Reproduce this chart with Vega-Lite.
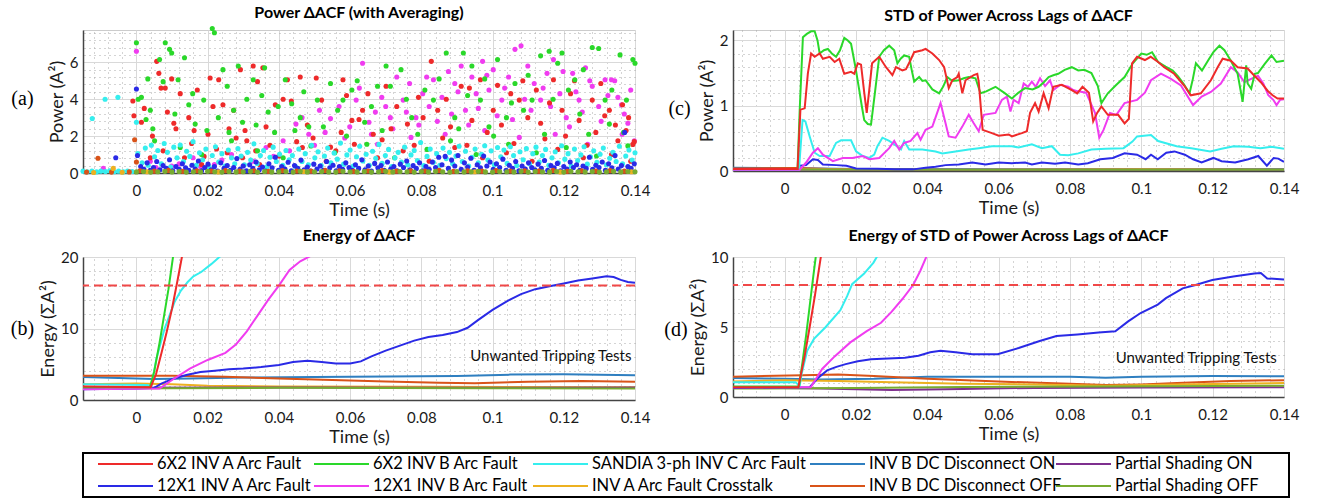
{
"$schema": "https://vega.github.io/schema/vega-lite/v6.json",
"autosize": {"type": "pad"},
"padding": {"left": 10, "top": 4, "right": 5, "bottom": 0},
"datasets": {
"leg": [
{"s":"r","name":"6X2 INV A Arc Fault","col":0,"row":0},{"s":"g","name":"6X2 INV B Arc Fault","col":1,"row":0},{"s":"c","name":"SANDIA 3-ph INV C Arc Fault","col":2,"row":0},{"s":"k","name":"INV B DC Disconnect ON","col":3,"row":0},{"s":"p","name":"Partial Shading ON","col":4,"row":0},
{"s":"b","name":"12X1 INV A Arc Fault","col":0,"row":1},{"s":"m","name":"12X1 INV B Arc Fault","col":1,"row":1},{"s":"y","name":"INV A Arc Fault Crosstalk","col":2,"row":1},{"s":"o","name":"INV B DC Disconnect OFF","col":3,"row":1},{"s":"l","name":"Partial Shading OFF","col":4,"row":1}
],
"a": [
{"t":-9.3,"v":0.26,"s":"m"},{"t":0,"v":6.6,"s":"m"},{"t":3.9,"v":0.64,"s":"m"},{"t":9.9,"v":0.37,"s":"m"},{"t":15.9,"v":0.83,"s":"m"},{"t":21.9,"v":0.46,"s":"m"},{"t":26.7,"v":1.0,"s":"m"},{"t":32.8,"v":0.64,"s":"m"},{"t":36.4,"v":1.38,"s":"m"},{"t":41.2,"v":1.75,"s":"m"},{"t":44.8,"v":2.65,"s":"m"},{"t":48.4,"v":2.1,"s":"m"},{"t":51.4,"v":3.4,"s":"m"},{"t":54.5,"v":2.95,"s":"m"},{"t":56.9,"v":3.6,"s":"m"},{"t":59.9,"v":2.5,"s":"m"},{"t":61.7,"v":3.95,"s":"m"},{"t":63.5,"v":5.95,"s":"m"},{"t":65.3,"v":2.75,"s":"m"},{"t":67.1,"v":3.3,"s":"m"},{"t":67.7,"v":1.56,"s":"m"},{"t":68.9,"v":4.1,"s":"m"},{"t":71.3,"v":3.0,"s":"m"},{"t":73.1,"v":5.2,"s":"m"},{"t":74.9,"v":3.95,"s":"m"},{"t":76.7,"v":4.85,"s":"m"},{"t":77.1,"v":1.93,"s":"m"},{"t":78.5,"v":3.0,"s":"m"},{"t":80.4,"v":4.3,"s":"m"},{"t":82.2,"v":3.6,"s":"m"},{"t":83.4,"v":5.05,"s":"m"},{"t":85.8,"v":4.1,"s":"m"},{"t":86.7,"v":2.1,"s":"m"},{"t":87.6,"v":5.5,"s":"m"},{"t":89.4,"v":4.85,"s":"m"},{"t":91.2,"v":5.8,"s":"m"},{"t":92.4,"v":3.4,"s":"m"},{"t":94.2,"v":5.2,"s":"m"},{"t":95.4,"v":4.3,"s":"m"},{"t":97.2,"v":6.05,"s":"m"},{"t":97.8,"v":2.3,"s":"m"},{"t":99,"v":4.5,"s":"m"},{"t":100.2,"v":5.6,"s":"m"},{"t":102.6,"v":3.95,"s":"m"},{"t":104.5,"v":5.2,"s":"m"},{"t":106.3,"v":6.7,"s":"m"},{"t":107.5,"v":1.93,"s":"m"},{"t":108,"v":6.9,"s":"m"},{"t":109.9,"v":5.8,"s":"m"},{"t":111.7,"v":4.85,"s":"m"},{"t":113.5,"v":3.95,"s":"m"},{"t":115.3,"v":5.4,"s":"m"},{"t":117.1,"v":6.15,"s":"m"},{"t":117.6,"v":2.1,"s":"m"},{"t":118.9,"v":4.3,"s":"m"},{"t":120.7,"v":3.0,"s":"m"},{"t":122.5,"v":5.4,"s":"m"},{"t":124.3,"v":3.95,"s":"m"},{"t":126.1,"v":5.7,"s":"m"},{"t":126.7,"v":1.56,"s":"m"},{"t":128,"v":4.7,"s":"m"},{"t":129.8,"v":3.6,"s":"m"},{"t":131.6,"v":5.05,"s":"m"},{"t":133.4,"v":5.05,"s":"m"},{"t":135.2,"v":4.1,"s":"m"},{"t":136.4,"v":2.1,"s":"m"},{"t":137,"v":3.2,"s":"m"},{"t":138.8,"v":4.5,"s":"m"},{"t":139.8,"v":1.75,"s":"m"},
{"t":5.5,"v":0.3,"s":"m"},{"t":12,"v":0.5,"s":"m"},{"t":18,"v":0.35,"s":"m"},{"t":24,"v":0.7,"s":"m"},{"t":30,"v":0.4,"s":"m"},{"t":38.5,"v":0.9,"s":"m"},{"t":43,"v":1.2,"s":"m"},{"t":46.5,"v":3.0,"s":"m"},{"t":50,"v":1.5,"s":"m"},{"t":53,"v":2.2,"s":"m"},{"t":58.5,"v":1.9,"s":"m"},{"t":62.6,"v":4.6,"s":"m"},{"t":66,"v":2.1,"s":"m"},{"t":70,"v":3.6,"s":"m"},{"t":72,"v":2.4,"s":"m"},{"t":75.8,"v":3.3,"s":"m"},{"t":79.3,"v":2.6,"s":"m"},{"t":81.5,"v":5.2,"s":"m"},{"t":84.5,"v":2.8,"s":"m"},{"t":88.5,"v":3.2,"s":"m"},{"t":90.3,"v":4.4,"s":"m"},{"t":93.3,"v":2.6,"s":"m"},{"t":96,"v":3.5,"s":"m"},{"t":98.4,"v":5.3,"s":"m"},{"t":101.3,"v":3.1,"s":"m"},{"t":103.4,"v":4.6,"s":"m"},{"t":105.6,"v":2.9,"s":"m"},{"t":109,"v":4.0,"s":"m"},{"t":110.8,"v":3.4,"s":"m"},{"t":114.2,"v":4.6,"s":"m"},{"t":116.3,"v":3.6,"s":"m"},{"t":119.8,"v":5.5,"s":"m"},{"t":121.6,"v":2.5,"s":"m"},{"t":123.4,"v":4.4,"s":"m"},{"t":125.2,"v":3.3,"s":"m"},{"t":127.3,"v":5.0,"s":"m"},{"t":130.5,"v":2.8,"s":"m"},{"t":132.4,"v":4.2,"s":"m"},{"t":134.3,"v":5.0,"s":"m"},{"t":136.2,"v":3.7,"s":"m"},{"t":138,"v":2.7,"s":"m"},
{"t":-1,"v":3.9,"s":"r"},{"t":-0.7,"v":3.1,"s":"r"},{"t":1.4,"v":2.75,"s":"r"},{"t":3.9,"v":0.83,"s":"r"},{"t":5.7,"v":6.05,"s":"r"},{"t":6.3,"v":5.4,"s":"r"},{"t":7.5,"v":1.2,"s":"r"},{"t":8.1,"v":4.6,"s":"r"},{"t":8.7,"v":3.3,"s":"r"},{"t":9.9,"v":5.1,"s":"r"},{"t":11.1,"v":2.4,"s":"r"},{"t":12.3,"v":4.3,"s":"r"},{"t":13.5,"v":0.83,"s":"r"},{"t":14.7,"v":3.0,"s":"r"},{"t":17.1,"v":4.5,"s":"r"},{"t":18.3,"v":0.46,"s":"r"},{"t":20.1,"v":2.1,"s":"r"},{"t":20.7,"v":5.15,"s":"r"},{"t":23.1,"v":5.05,"s":"r"},{"t":24.3,"v":3.7,"s":"r"},{"t":25.5,"v":1.1,"s":"r"},{"t":27.3,"v":3.4,"s":"r"},{"t":29.2,"v":5.6,"s":"r"},{"t":29.8,"v":0.83,"s":"r"},{"t":31,"v":1.75,"s":"r"},{"t":32.8,"v":5.8,"s":"r"},{"t":34,"v":4.95,"s":"r"},{"t":34.6,"v":0.46,"s":"r"},{"t":36.4,"v":2.5,"s":"r"},{"t":40,"v":0.92,"s":"r"},{"t":41.2,"v":4.0,"s":"r"},{"t":42.4,"v":5.05,"s":"r"},{"t":46,"v":5.2,"s":"r"},{"t":46.6,"v":1.38,"s":"r"},{"t":49.6,"v":1.9,"s":"r"},{"t":52,"v":3.95,"s":"r"},{"t":53.3,"v":0.64,"s":"r"},{"t":54.5,"v":1.4,"s":"r"},{"t":58,"v":5.05,"s":"r"},{"t":60.5,"v":2.85,"s":"r"},{"t":61.2,"v":1.56,"s":"r"},{"t":63.5,"v":3.4,"s":"r"},{"t":66.5,"v":2.1,"s":"r"},{"t":67.7,"v":0.83,"s":"r"},{"t":70.1,"v":4.7,"s":"r"},{"t":73.1,"v":3.6,"s":"r"},{"t":74.9,"v":1.2,"s":"r"},{"t":76.1,"v":2.65,"s":"r"},{"t":79.2,"v":4.1,"s":"r"},{"t":82.2,"v":0.64,"s":"r"},{"t":82.8,"v":6.05,"s":"r"},{"t":84.6,"v":3.4,"s":"r"},{"t":88.2,"v":2.5,"s":"r"},{"t":89.4,"v":1.38,"s":"r"},{"t":91.2,"v":4.7,"s":"r"},{"t":94.2,"v":2.85,"s":"r"},{"t":96.6,"v":5.05,"s":"r"},{"t":97.2,"v":0.83,"s":"r"},{"t":100.2,"v":3.4,"s":"r"},{"t":101.4,"v":4.75,"s":"r"},{"t":103.9,"v":1.1,"s":"r"},{"t":105.1,"v":4.3,"s":"r"},{"t":107.5,"v":3.95,"s":"r"},{"t":109.9,"v":3.0,"s":"r"},{"t":111.1,"v":0.64,"s":"r"},{"t":112.3,"v":4.5,"s":"r"},{"t":114.7,"v":1.85,"s":"r"},{"t":117.1,"v":5.05,"s":"r"},{"t":118.3,"v":1.28,"s":"r"},{"t":119.5,"v":3.4,"s":"r"},{"t":121.9,"v":4.3,"s":"r"},{"t":124.3,"v":2.85,"s":"r"},{"t":125.5,"v":0.83,"s":"r"},{"t":128,"v":3.95,"s":"r"},{"t":130.4,"v":4.85,"s":"r"},{"t":132.8,"v":3.4,"s":"r"},{"t":133.4,"v":1.0,"s":"r"},{"t":135.2,"v":1.75,"s":"r"},{"t":138.2,"v":3.0,"s":"r"},{"t":138.8,"v":0.64,"s":"r"},{"t":139.4,"v":1.55,"s":"r"},
{"t":2.2,"v":3.5,"s":"r"},{"t":4.5,"v":2.0,"s":"r"},{"t":6.9,"v":4.6,"s":"r"},{"t":10.5,"v":2.7,"s":"r"},{"t":15.5,"v":1.6,"s":"r"},{"t":16.2,"v":2.3,"s":"r"},{"t":19,"v":0.9,"s":"r"},{"t":21.5,"v":3.6,"s":"r"},{"t":22.5,"v":1.3,"s":"r"},{"t":26,"v":2.4,"s":"r"},{"t":28,"v":1.9,"s":"r"},{"t":30.5,"v":2.3,"s":"r"},{"t":33.5,"v":1.2,"s":"r"},{"t":35.5,"v":5.7,"s":"r"},{"t":37.5,"v":1.5,"s":"r"},{"t":39,"v":3.7,"s":"r"},{"t":43.5,"v":3.9,"s":"r"},{"t":45,"v":1.7,"s":"r"},{"t":48,"v":2.6,"s":"r"},{"t":50.5,"v":5.15,"s":"r"},{"t":56,"v":1.2,"s":"r"},{"t":57.5,"v":2.2,"s":"r"},{"t":59,"v":4.2,"s":"r"},{"t":62.5,"v":2.9,"s":"r"},{"t":65,"v":4.3,"s":"r"},{"t":69,"v":1.8,"s":"r"},{"t":71.5,"v":2.4,"s":"r"},{"t":78,"v":1.5,"s":"r"},{"t":80.5,"v":3.0,"s":"r"},{"t":86,"v":1.9,"s":"r"},{"t":87,"v":4.0,"s":"r"},{"t":92.8,"v":1.5,"s":"r"},{"t":93.5,"v":4.6,"s":"r"},{"t":98.5,"v":2.2,"s":"r"},{"t":102.5,"v":2.6,"s":"r"},{"t":106,"v":1.6,"s":"r"},{"t":108.5,"v":5.0,"s":"r"},{"t":113.5,"v":2.7,"s":"r"},{"t":116,"v":3.8,"s":"r"},{"t":120.5,"v":2.0,"s":"r"},{"t":123,"v":5.0,"s":"r"},{"t":126.5,"v":1.5,"s":"r"},{"t":129,"v":2.2,"s":"r"},{"t":131.5,"v":3.1,"s":"r"},{"t":134.5,"v":2.6,"s":"r"},{"t":136.5,"v":3.7,"s":"r"},{"t":137.5,"v":2.3,"s":"r"},{"t":139.8,"v":1.7,"s":"r"},
{"t":0,"v":7.06,"s":"g"},{"t":0.5,"v":4.0,"s":"g"},{"t":1.4,"v":4.1,"s":"g"},{"t":2.7,"v":2.9,"s":"g"},{"t":3.9,"v":3.4,"s":"g"},{"t":5.1,"v":1.75,"s":"g"},{"t":6.5,"v":6.15,"s":"g"},{"t":7.5,"v":4.95,"s":"g"},{"t":8.1,"v":7.06,"s":"g"},{"t":9.3,"v":6.7,"s":"g"},{"t":9.9,"v":6.5,"s":"g"},{"t":11.7,"v":5.05,"s":"g"},{"t":12.3,"v":1.38,"s":"g"},{"t":13.5,"v":6.25,"s":"g"},{"t":14.7,"v":3.7,"s":"g"},{"t":16.5,"v":2.65,"s":"g"},{"t":18.3,"v":1.0,"s":"g"},{"t":18.9,"v":3.95,"s":"g"},{"t":21.3,"v":7.83,"s":"g"},{"t":21.9,"v":7.6,"s":"g"},{"t":24.3,"v":5.6,"s":"g"},{"t":25.5,"v":4.7,"s":"g"},{"t":26.7,"v":1.75,"s":"g"},{"t":27.3,"v":3.4,"s":"g"},{"t":28.6,"v":5.8,"s":"g"},{"t":29.8,"v":2.75,"s":"g"},{"t":32.8,"v":5.05,"s":"g"},{"t":34,"v":1.2,"s":"g"},{"t":35.2,"v":4.2,"s":"g"},{"t":37,"v":3.3,"s":"g"},{"t":38.8,"v":2.2,"s":"g"},{"t":41.2,"v":0.83,"s":"g"},{"t":41.8,"v":5.05,"s":"g"},{"t":43.6,"v":3.75,"s":"g"},{"t":46,"v":3.0,"s":"g"},{"t":48.4,"v":2.5,"s":"g"},{"t":49,"v":1.47,"s":"g"},{"t":50.8,"v":3.95,"s":"g"},{"t":54.5,"v":4.85,"s":"g"},{"t":55.7,"v":1.1,"s":"g"},{"t":58,"v":3.95,"s":"g"},{"t":60.5,"v":4.5,"s":"g"},{"t":64.1,"v":2.75,"s":"g"},{"t":64.7,"v":1.56,"s":"g"},{"t":67.7,"v":4.7,"s":"g"},{"t":70.1,"v":5.8,"s":"g"},{"t":71.3,"v":4.7,"s":"g"},{"t":72.5,"v":0.83,"s":"g"},{"t":74.3,"v":5.6,"s":"g"},{"t":77.3,"v":3.0,"s":"g"},{"t":81,"v":4.5,"s":"g"},{"t":81.6,"v":1.28,"s":"g"},{"t":83.4,"v":3.95,"s":"g"},{"t":87,"v":6.5,"s":"g"},{"t":88.2,"v":1.75,"s":"g"},{"t":89.4,"v":3.0,"s":"g"},{"t":91.8,"v":6.5,"s":"g"},{"t":94.2,"v":5.8,"s":"g"},{"t":95.4,"v":1.0,"s":"g"},{"t":96.6,"v":3.95,"s":"g"},{"t":99,"v":2.5,"s":"g"},{"t":101.4,"v":6.15,"s":"g"},{"t":103.9,"v":3.0,"s":"g"},{"t":104.5,"v":1.56,"s":"g"},{"t":106.3,"v":4.85,"s":"g"},{"t":108.7,"v":3.4,"s":"g"},{"t":111.1,"v":3.95,"s":"g"},{"t":112.3,"v":1.1,"s":"g"},{"t":113.5,"v":6.35,"s":"g"},{"t":115.9,"v":6.6,"s":"g"},{"t":118.3,"v":5.95,"s":"g"},{"t":119.5,"v":6.5,"s":"g"},{"t":120.7,"v":1.38,"s":"g"},{"t":121.3,"v":4.5,"s":"g"},{"t":123.1,"v":5.05,"s":"g"},{"t":125.5,"v":5.6,"s":"g"},{"t":128,"v":6.8,"s":"g"},{"t":129.2,"v":0.92,"s":"g"},{"t":129.8,"v":6.75,"s":"g"},{"t":131.6,"v":3.95,"s":"g"},{"t":132.8,"v":2.65,"s":"g"},{"t":135.8,"v":6.4,"s":"g"},{"t":137.6,"v":3.95,"s":"g"},{"t":138,"v":1.47,"s":"g"},{"t":139.4,"v":6.15,"s":"g"},{"t":140,"v":5.95,"s":"g"},
{"t":3.2,"v":5.1,"s":"g"},{"t":4.6,"v":2.4,"s":"g"},{"t":10.8,"v":3.2,"s":"g"},{"t":15.8,"v":4.3,"s":"g"},{"t":19.8,"v":2.3,"s":"g"},{"t":23,"v":3.0,"s":"g"},{"t":26,"v":2.2,"s":"g"},{"t":31,"v":4.0,"s":"g"},{"t":33.6,"v":2.6,"s":"g"},{"t":36,"v":5.7,"s":"g"},{"t":39.8,"v":3.6,"s":"g"},{"t":44.5,"v":2.3,"s":"g"},{"t":47,"v":4.4,"s":"g"},{"t":52.5,"v":2.5,"s":"g"},{"t":56.5,"v":3.4,"s":"g"},{"t":59,"v":2.0,"s":"g"},{"t":62,"v":5.0,"s":"g"},{"t":66,"v":3.6,"s":"g"},{"t":69,"v":2.3,"s":"g"},{"t":75.8,"v":4.0,"s":"g"},{"t":79,"v":2.1,"s":"g"},{"t":85,"v":5.1,"s":"g"},{"t":90.5,"v":2.4,"s":"g"},{"t":93,"v":4.2,"s":"g"},{"t":97.8,"v":5.1,"s":"g"},{"t":100.3,"v":2.0,"s":"g"},{"t":105.3,"v":3.8,"s":"g"},{"t":110,"v":5.3,"s":"g"},{"t":114.6,"v":2.1,"s":"g"},{"t":117,"v":4.0,"s":"g"},{"t":124.5,"v":3.2,"s":"g"},{"t":127,"v":2.1,"s":"g"},{"t":133.5,"v":4.5,"s":"g"},{"t":136.8,"v":2.2,"s":"g"},
{"t":-15,"v":0.1,"s":"c"},{"t":-13.8,"v":0.07,"s":"c"},{"t":-12.4,"v":2.95,"s":"c"},{"t":-12.5,"v":0.11,"s":"c"},{"t":-11.2,"v":0.06,"s":"c"},{"t":-10,"v":0.1,"s":"c"},{"t":-8.8,"v":4.0,"s":"c"},{"t":-8.7,"v":0.08,"s":"c"},{"t":-7.5,"v":0.12,"s":"c"},{"t":-6.2,"v":0.07,"s":"c"},{"t":-5.2,"v":4.1,"s":"c"},{"t":-5,"v":0.1,"s":"c"},{"t":-3.7,"v":0.06,"s":"c"},{"t":-2.5,"v":0.11,"s":"c"},{"t":-1.2,"v":0.08,"s":"c"},{"t":0,"v":2.75,"s":"c"},
{"t":0.4,"v":1.05,"s":"c"},{"t":1.6,"v":0.55,"s":"c"},{"t":2.5,"v":1.35,"s":"c"},{"t":3.3,"v":0.42,"s":"c"},{"t":4.2,"v":1.5,"s":"c"},{"t":5.1,"v":0.88,"s":"c"},{"t":6,"v":1.22,"s":"c"},{"t":7,"v":0.5,"s":"c"},{"t":7.8,"v":1.6,"s":"c"},{"t":8.7,"v":1.12,"s":"c"},{"t":9.6,"v":0.32,"s":"c"},{"t":10.5,"v":1.4,"s":"c"},{"t":11.4,"v":0.82,"s":"c"},{"t":12.3,"v":1.52,"s":"c"},{"t":13.2,"v":0.62,"s":"c"},{"t":14.1,"v":1.18,"s":"c"},{"t":15,"v":0.9,"s":"c"},{"t":15.9,"v":1.7,"s":"c"},{"t":16.8,"v":0.42,"s":"c"},{"t":17.7,"v":1.1,"s":"c"},{"t":18.6,"v":0.72,"s":"c"},{"t":19.5,"v":1.3,"s":"c"},{"t":20.4,"v":0.35,"s":"c"},{"t":21.3,"v":0.95,"s":"c"},{"t":22.2,"v":1.42,"s":"c"},{"t":23.1,"v":0.6,"s":"c"},{"t":24,"v":1.05,"s":"c"},{"t":24.9,"v":0.38,"s":"c"},{"t":25.8,"v":1.25,"s":"c"},{"t":26.7,"v":0.82,"s":"c"},{"t":27.6,"v":0.5,"s":"c"},{"t":28.5,"v":1.32,"s":"c"},{"t":29.4,"v":0.92,"s":"c"},{"t":30.3,"v":0.45,"s":"c"},{"t":31.2,"v":1.12,"s":"c"},{"t":32.1,"v":0.7,"s":"c"},{"t":33,"v":1.58,"s":"c"},{"t":33.9,"v":0.52,"s":"c"},{"t":34.8,"v":0.95,"s":"c"},{"t":35.7,"v":1.22,"s":"c"},{"t":36.6,"v":0.33,"s":"c"},{"t":37.5,"v":0.85,"s":"c"},{"t":38.4,"v":1.4,"s":"c"},{"t":39.3,"v":0.62,"s":"c"},{"t":40.2,"v":1.02,"s":"c"},{"t":41.1,"v":0.42,"s":"c"},{"t":42,"v":1.22,"s":"c"},{"t":42.9,"v":0.72,"s":"c"},{"t":43.8,"v":0.95,"s":"c"},{"t":44.7,"v":0.35,"s":"c"},{"t":45.6,"v":1.3,"s":"c"},{"t":46.5,"v":0.62,"s":"c"},{"t":47.4,"v":1.05,"s":"c"},{"t":48.3,"v":0.45,"s":"c"},{"t":49.2,"v":1.5,"s":"c"},{"t":50.1,"v":0.82,"s":"c"},{"t":51,"v":1.15,"s":"c"},{"t":51.9,"v":0.4,"s":"c"},{"t":52.8,"v":0.92,"s":"c"},{"t":53.7,"v":1.35,"s":"c"},{"t":54.6,"v":0.55,"s":"c"},{"t":55.5,"v":1.08,"s":"c"},{"t":56.4,"v":0.75,"s":"c"},{"t":57.3,"v":1.62,"s":"c"},{"t":58.2,"v":0.48,"s":"c"},{"t":59.1,"v":0.98,"s":"c"},{"t":60,"v":1.25,"s":"c"},{"t":60.9,"v":0.38,"s":"c"},{"t":61.8,"v":0.88,"s":"c"},{"t":62.7,"v":1.45,"s":"c"},{"t":63.6,"v":0.65,"s":"c"},{"t":64.5,"v":1.02,"s":"c"},{"t":65.4,"v":0.42,"s":"c"},{"t":66.3,"v":1.18,"s":"c"},{"t":67.2,"v":0.8,"s":"c"},{"t":68.1,"v":1.55,"s":"c"},{"t":69,"v":0.52,"s":"c"},{"t":69.9,"v":0.95,"s":"c"},{"t":70.8,"v":1.28,"s":"c"},{"t":71.7,"v":0.35,"s":"c"},{"t":72.6,"v":0.82,"s":"c"},{"t":73.5,"v":1.12,"s":"c"},{"t":74.4,"v":0.6,"s":"c"},{"t":75.3,"v":1.4,"s":"c"},{"t":76.2,"v":0.45,"s":"c"},{"t":77.1,"v":0.98,"s":"c"},{"t":78,"v":1.22,"s":"c"},{"t":78.9,"v":0.68,"s":"c"},{"t":79.8,"v":1.65,"s":"c"},{"t":80.7,"v":0.4,"s":"c"},{"t":81.6,"v":0.9,"s":"c"},{"t":82.5,"v":1.3,"s":"c"},{"t":83.4,"v":0.58,"s":"c"},{"t":84.3,"v":1.05,"s":"c"},{"t":85.2,"v":0.42,"s":"c"},{"t":86.1,"v":1.35,"s":"c"},{"t":87,"v":0.78,"s":"c"},{"t":87.9,"v":1.12,"s":"c"},{"t":88.8,"v":0.5,"s":"c"},{"t":89.7,"v":0.92,"s":"c"},{"t":90.6,"v":1.45,"s":"c"},{"t":91.5,"v":0.62,"s":"c"},{"t":92.4,"v":1.18,"s":"c"},{"t":93.3,"v":0.38,"s":"c"},{"t":94.2,"v":0.85,"s":"c"},{"t":95.1,"v":1.3,"s":"c"},{"t":96,"v":0.55,"s":"c"},{"t":96.9,"v":1.02,"s":"c"},{"t":97.8,"v":1.48,"s":"c"},{"t":98.7,"v":0.7,"s":"c"},{"t":99.6,"v":1.2,"s":"c"},{"t":100.5,"v":0.45,"s":"c"},{"t":101.4,"v":1.38,"s":"c"},{"t":102.3,"v":0.88,"s":"c"},{"t":103.2,"v":1.25,"s":"c"},{"t":104.1,"v":0.52,"s":"c"},{"t":105,"v":1.42,"s":"c"},{"t":105.9,"v":0.95,"s":"c"},{"t":106.8,"v":0.4,"s":"c"},{"t":107.7,"v":1.15,"s":"c"},{"t":108.6,"v":0.72,"s":"c"},{"t":109.5,"v":1.32,"s":"c"},{"t":110.4,"v":0.5,"s":"c"},{"t":111.3,"v":1.05,"s":"c"},{"t":112.2,"v":1.4,"s":"c"},{"t":113.1,"v":0.6,"s":"c"},{"t":114,"v":0.95,"s":"c"},{"t":114.9,"v":1.28,"s":"c"},{"t":115.8,"v":0.42,"s":"c"},{"t":116.7,"v":0.82,"s":"c"},{"t":117.6,"v":1.15,"s":"c"},{"t":118.5,"v":0.55,"s":"c"},{"t":119.4,"v":1.48,"s":"c"},{"t":120.3,"v":0.75,"s":"c"},{"t":121.2,"v":1.05,"s":"c"},{"t":122.1,"v":0.38,"s":"c"},{"t":123,"v":1.3,"s":"c"},{"t":123.9,"v":0.68,"s":"c"},{"t":124.8,"v":0.98,"s":"c"},{"t":125.7,"v":1.42,"s":"c"},{"t":126.6,"v":0.48,"s":"c"},{"t":127.5,"v":0.88,"s":"c"},{"t":128.4,"v":1.2,"s":"c"},{"t":129.3,"v":0.58,"s":"c"},{"t":130.2,"v":1.02,"s":"c"},{"t":131.1,"v":1.35,"s":"c"},{"t":132,"v":0.45,"s":"c"},{"t":132.9,"v":0.8,"s":"c"},{"t":133.8,"v":1.12,"s":"c"},{"t":134.7,"v":0.62,"s":"c"},{"t":135.6,"v":1.45,"s":"c"},{"t":136.5,"v":0.5,"s":"c"},{"t":137.4,"v":0.92,"s":"c"},{"t":138.3,"v":1.25,"s":"c"},{"t":139.2,"v":0.7,"s":"c"},{"t":140,"v":1.1,"s":"c"},
{"t":-5.8,"v":0.83,"s":"b"},{"t":0,"v":4.55,"s":"b"},{"t":0.3,"v":0.95,"s":"b"},{"t":1.2,"v":0.35,"s":"b"},{"t":2.1,"v":0.2,"s":"b"},{"t":3,"v":0.55,"s":"b"},{"t":3.9,"v":0.15,"s":"b"},{"t":4.8,"v":0.3,"s":"b"},{"t":5.7,"v":0.62,"s":"b"},{"t":6.6,"v":0.18,"s":"b"},{"t":7.5,"v":0.4,"s":"b"},{"t":8.4,"v":0.25,"s":"b"},{"t":9.3,"v":0.72,"s":"b"},{"t":10.2,"v":0.12,"s":"b"},{"t":11.1,"v":0.35,"s":"b"},{"t":12,"v":0.2,"s":"b"},{"t":12.9,"v":0.5,"s":"b"},{"t":13.8,"v":0.28,"s":"b"},{"t":14.7,"v":0.15,"s":"b"},{"t":15.6,"v":0.42,"s":"b"},{"t":16.5,"v":0.22,"s":"b"},{"t":17.4,"v":0.65,"s":"b"},{"t":18.3,"v":0.12,"s":"b"},{"t":19.2,"v":0.3,"s":"b"},{"t":20.1,"v":0.48,"s":"b"},{"t":21,"v":0.18,"s":"b"},{"t":21.9,"v":0.35,"s":"b"},{"t":22.8,"v":0.1,"s":"b"},{"t":23.7,"v":0.55,"s":"b"},{"t":24.6,"v":0.25,"s":"b"},{"t":25.5,"v":0.4,"s":"b"},{"t":26.4,"v":0.15,"s":"b"},{"t":27.3,"v":0.3,"s":"b"},{"t":28.2,"v":0.78,"s":"b"},{"t":29.1,"v":0.2,"s":"b"},{"t":30,"v":0.38,"s":"b"},{"t":30.9,"v":0.12,"s":"b"},{"t":31.8,"v":0.45,"s":"b"},{"t":32.7,"v":0.25,"s":"b"},{"t":33.6,"v":0.6,"s":"b"},{"t":34.5,"v":0.18,"s":"b"},{"t":35.4,"v":0.32,"s":"b"},{"t":36.3,"v":0.1,"s":"b"},{"t":37.2,"v":0.5,"s":"b"},{"t":38.1,"v":0.28,"s":"b"},{"t":39,"v":0.85,"s":"b"},{"t":39.9,"v":0.15,"s":"b"},{"t":40.8,"v":0.35,"s":"b"},{"t":41.7,"v":0.22,"s":"b"},{"t":42.6,"v":0.58,"s":"b"},{"t":43.5,"v":0.12,"s":"b"},{"t":44.4,"v":0.4,"s":"b"},{"t":45.3,"v":0.25,"s":"b"},{"t":46.2,"v":0.7,"s":"b"},{"t":47.1,"v":0.18,"s":"b"},{"t":48,"v":0.32,"s":"b"},{"t":48.9,"v":0.1,"s":"b"},{"t":49.8,"v":0.48,"s":"b"},{"t":50.7,"v":0.22,"s":"b"},{"t":51.6,"v":0.38,"s":"b"},{"t":52.5,"v":0.15,"s":"b"},{"t":53.4,"v":0.62,"s":"b"},{"t":54.3,"v":0.28,"s":"b"},{"t":55.2,"v":0.42,"s":"b"},{"t":56.1,"v":0.12,"s":"b"},{"t":57,"v":0.35,"s":"b"},{"t":57.9,"v":0.2,"s":"b"},{"t":58.8,"v":0.55,"s":"b"},{"t":59.7,"v":0.3,"s":"b"},{"t":60.6,"v":0.15,"s":"b"},{"t":61.5,"v":0.45,"s":"b"},{"t":62.4,"v":0.25,"s":"b"},{"t":63.3,"v":0.72,"s":"b"},{"t":64.2,"v":0.18,"s":"b"},{"t":65.1,"v":0.38,"s":"b"},{"t":66,"v":0.1,"s":"b"},{"t":66.9,"v":0.52,"s":"b"},{"t":67.8,"v":0.28,"s":"b"},{"t":68.7,"v":0.4,"s":"b"},{"t":69.6,"v":0.15,"s":"b"},{"t":70.5,"v":0.6,"s":"b"},{"t":71.4,"v":0.22,"s":"b"},{"t":72.3,"v":0.35,"s":"b"},{"t":73.2,"v":0.12,"s":"b"},{"t":74.1,"v":0.48,"s":"b"},{"t":75,"v":0.3,"s":"b"},{"t":75.9,"v":0.65,"s":"b"},{"t":76.8,"v":0.18,"s":"b"},{"t":77.7,"v":0.4,"s":"b"},{"t":78.6,"v":0.25,"s":"b"},{"t":79.5,"v":0.55,"s":"b"},{"t":80.4,"v":0.12,"s":"b"},{"t":81.3,"v":0.35,"s":"b"},{"t":82.2,"v":0.2,"s":"b"},{"t":83.1,"v":0.6,"s":"b"},{"t":84,"v":0.3,"s":"b"},{"t":84.9,"v":0.85,"s":"b"},{"t":85.8,"v":0.45,"s":"b"},{"t":86.7,"v":0.9,"s":"b"},{"t":87.6,"v":0.25,"s":"b"},{"t":88.5,"v":0.7,"s":"b"},{"t":89.4,"v":0.38,"s":"b"},{"t":90.3,"v":0.95,"s":"b"},{"t":91.2,"v":0.2,"s":"b"},{"t":92.1,"v":0.55,"s":"b"},{"t":93,"v":0.32,"s":"b"},{"t":93.9,"v":0.8,"s":"b"},{"t":94.8,"v":0.15,"s":"b"},{"t":95.7,"v":0.45,"s":"b"},{"t":96.6,"v":0.28,"s":"b"},{"t":97.5,"v":0.92,"s":"b"},{"t":98.4,"v":0.38,"s":"b"},{"t":99.3,"v":0.6,"s":"b"},{"t":100.2,"v":0.2,"s":"b"},{"t":101.1,"v":0.5,"s":"b"},{"t":102,"v":0.3,"s":"b"},{"t":102.9,"v":0.75,"s":"b"},{"t":103.8,"v":0.15,"s":"b"},{"t":104.7,"v":0.42,"s":"b"},{"t":105.6,"v":0.25,"s":"b"},{"t":106.5,"v":0.62,"s":"b"},{"t":107.4,"v":0.12,"s":"b"},{"t":108.3,"v":0.38,"s":"b"},{"t":109.2,"v":0.22,"s":"b"},{"t":110.1,"v":0.55,"s":"b"},{"t":111,"v":0.3,"s":"b"},{"t":111.9,"v":0.18,"s":"b"},{"t":112.8,"v":0.48,"s":"b"},{"t":113.7,"v":0.25,"s":"b"},{"t":114.6,"v":0.68,"s":"b"},{"t":115.5,"v":0.15,"s":"b"},{"t":116.4,"v":0.4,"s":"b"},{"t":117.3,"v":0.28,"s":"b"},{"t":118.2,"v":0.52,"s":"b"},{"t":119.1,"v":0.12,"s":"b"},{"t":120,"v":0.35,"s":"b"},{"t":120.9,"v":0.22,"s":"b"},{"t":121.8,"v":0.6,"s":"b"},{"t":122.7,"v":0.3,"s":"b"},{"t":123.6,"v":0.45,"s":"b"},{"t":124.5,"v":0.15,"s":"b"},{"t":125.4,"v":0.38,"s":"b"},{"t":126.3,"v":0.25,"s":"b"},{"t":127.2,"v":0.85,"s":"b"},{"t":128.1,"v":0.2,"s":"b"},{"t":129,"v":0.42,"s":"b"},{"t":129.9,"v":0.3,"s":"b"},{"t":130.8,"v":0.6,"s":"b"},{"t":131.7,"v":0.15,"s":"b"},{"t":132.6,"v":0.5,"s":"b"},{"t":133.5,"v":0.28,"s":"b"},{"t":134.4,"v":0.95,"s":"b"},{"t":135.3,"v":0.22,"s":"b"},{"t":136.2,"v":0.4,"s":"b"},{"t":137.1,"v":2.2,"s":"b"},{"t":138,"v":0.35,"s":"b"},{"t":138.9,"v":0.25,"s":"b"},{"t":139.8,"v":0.5,"s":"b"},
{"t":-14,"v":0.05,"s":"o"},{"t":-10.8,"v":0.8,"s":"o"},{"t":-7,"v":0.05,"s":"o"},{"t":-2,"v":0.06,"s":"o"},{"t":-0.5,"v":1.8,"s":"o"},{"t":0,"v":0.6,"s":"o"},{"t":1,"v":0.12,"s":"o"},{"t":5,"v":0.1,"s":"o"},{"t":9,"v":0.14,"s":"o"},{"t":13,"v":0.09,"s":"o"},{"t":17,"v":0.12,"s":"o"},{"t":21,"v":0.11,"s":"o"},{"t":25,"v":0.13,"s":"o"},{"t":29,"v":0.1,"s":"o"},{"t":33,"v":0.12,"s":"o"},{"t":37,"v":0.09,"s":"o"},{"t":41,"v":0.13,"s":"o"},{"t":45,"v":0.11,"s":"o"},{"t":49,"v":0.1,"s":"o"},{"t":53,"v":0.14,"s":"o"},{"t":57,"v":0.12,"s":"o"},{"t":61,"v":0.09,"s":"o"},{"t":65,"v":0.11,"s":"o"},{"t":69,"v":0.13,"s":"o"},{"t":73,"v":0.1,"s":"o"},{"t":77,"v":0.12,"s":"o"},{"t":81,"v":0.11,"s":"o"},{"t":85,"v":0.14,"s":"o"},{"t":89,"v":0.09,"s":"o"},{"t":93,"v":0.12,"s":"o"},{"t":97,"v":0.1,"s":"o"},{"t":101,"v":0.13,"s":"o"},{"t":105,"v":0.11,"s":"o"},{"t":109,"v":0.12,"s":"o"},{"t":113,"v":0.1,"s":"o"},{"t":117,"v":0.14,"s":"o"},{"t":121,"v":0.09,"s":"o"},{"t":125,"v":0.12,"s":"o"},{"t":129,"v":0.11,"s":"o"},{"t":133,"v":0.13,"s":"o"},{"t":137,"v":0.1,"s":"o"},
{"t":-12,"v":0.03,"s":"y"},{"t":-6.5,"v":0.25,"s":"y"},{"t":-4,"v":0.04,"s":"y"},{"t":3,"v":0.07,"s":"y"},{"t":23,"v":0.06,"s":"y"},{"t":47,"v":0.08,"s":"y"},{"t":71,"v":0.06,"s":"y"},{"t":95,"v":0.07,"s":"y"},{"t":119,"v":0.06,"s":"y"},{"t":139,"v":0.07,"s":"y"},
{"t":0,"v":0.06,"s":"l"},{"t":2,"v":0.08,"s":"l"},{"t":4,"v":0.05,"s":"l"},{"t":6,"v":0.07,"s":"l"},{"t":8,"v":0.09,"s":"l"},{"t":10,"v":0.06,"s":"l"},{"t":12,"v":0.08,"s":"l"},{"t":14,"v":0.05,"s":"l"},{"t":16,"v":0.07,"s":"l"},{"t":18,"v":0.06,"s":"l"},{"t":20,"v":0.09,"s":"l"},{"t":22,"v":0.07,"s":"l"},{"t":24,"v":0.05,"s":"l"},{"t":26,"v":0.08,"s":"l"},{"t":28,"v":0.06,"s":"l"},{"t":30,"v":0.07,"s":"l"},{"t":32,"v":0.09,"s":"l"},{"t":34,"v":0.05,"s":"l"},{"t":36,"v":0.08,"s":"l"},{"t":38,"v":0.06,"s":"l"},{"t":40,"v":0.07,"s":"l"},{"t":42,"v":0.08,"s":"l"},{"t":44,"v":0.05,"s":"l"},{"t":46,"v":0.09,"s":"l"},{"t":48,"v":0.06,"s":"l"},{"t":50,"v":0.07,"s":"l"},{"t":52,"v":0.08,"s":"l"},{"t":54,"v":0.06,"s":"l"},{"t":56,"v":0.05,"s":"l"},{"t":58,"v":0.09,"s":"l"},{"t":60,"v":0.07,"s":"l"},{"t":62,"v":0.06,"s":"l"},{"t":64,"v":0.08,"s":"l"},{"t":66,"v":0.05,"s":"l"},{"t":68,"v":0.07,"s":"l"},{"t":70,"v":0.09,"s":"l"},{"t":72,"v":0.06,"s":"l"},{"t":74,"v":0.08,"s":"l"},{"t":76,"v":0.07,"s":"l"},{"t":78,"v":0.05,"s":"l"},{"t":80,"v":0.08,"s":"l"},{"t":82,"v":0.06,"s":"l"},{"t":84,"v":0.09,"s":"l"},{"t":86,"v":0.07,"s":"l"},{"t":88,"v":0.05,"s":"l"},{"t":90,"v":0.08,"s":"l"},{"t":92,"v":0.06,"s":"l"},{"t":94,"v":0.07,"s":"l"},{"t":96,"v":0.09,"s":"l"},{"t":98,"v":0.06,"s":"l"},{"t":100,"v":0.05,"s":"l"},{"t":102,"v":0.08,"s":"l"},{"t":104,"v":0.07,"s":"l"},{"t":106,"v":0.06,"s":"l"},{"t":108,"v":0.09,"s":"l"},{"t":110,"v":0.05,"s":"l"},{"t":112,"v":0.08,"s":"l"},{"t":114,"v":0.07,"s":"l"},{"t":116,"v":0.06,"s":"l"},{"t":118,"v":0.08,"s":"l"},{"t":120,"v":0.05,"s":"l"},{"t":122,"v":0.09,"s":"l"},{"t":124,"v":0.07,"s":"l"},{"t":126,"v":0.06,"s":"l"},{"t":128,"v":0.08,"s":"l"},{"t":130,"v":0.05,"s":"l"},{"t":132,"v":0.07,"s":"l"},{"t":134,"v":0.09,"s":"l"},{"t":136,"v":0.06,"s":"l"},{"t":138,"v":0.08,"s":"l"},{"t":140,"v":0.07,"s":"l"}
],
"b": [
{"t":-15,"v":3.2,"s":"k"},{"t":5,"v":2.95,"s":"k"},{"t":15,"v":3.0,"s":"k"},{"t":30,"v":3.15,"s":"k"},{"t":50,"v":3.2,"s":"k"},{"t":70,"v":3.3,"s":"k"},{"t":90,"v":3.35,"s":"k"},{"t":105,"v":3.55,"s":"k"},{"t":120,"v":3.6,"s":"k"},{"t":140,"v":3.45,"s":"k"},
{"t":-15,"v":3.4,"s":"o"},{"t":10,"v":3.4,"s":"o"},{"t":25,"v":3.25,"s":"o"},{"t":40,"v":3.0,"s":"o"},{"t":55,"v":2.8,"s":"o"},{"t":70,"v":2.6,"s":"o"},{"t":85,"v":2.4,"s":"o"},{"t":95,"v":2.35,"s":"o"},{"t":110,"v":2.55,"s":"o"},{"t":125,"v":2.65,"s":"o"},{"t":140,"v":2.55,"s":"o"},
{"t":-15,"v":2.2,"s":"y"},{"t":0,"v":2.3,"s":"y"},{"t":10,"v":2.2,"s":"y"},{"t":20,"v":2.0,"s":"y"},{"t":40,"v":1.9,"s":"y"},{"t":80,"v":1.85,"s":"y"},{"t":140,"v":1.8,"s":"y"},
{"t":-15,"v":1.7,"s":"p"},{"t":50,"v":1.75,"s":"p"},{"t":100,"v":1.7,"s":"p"},{"t":140,"v":1.75,"s":"p"},
{"t":-15,"v":1.6,"s":"l"},{"t":40,"v":1.7,"s":"l"},{"t":100,"v":1.65,"s":"l"},{"t":140,"v":1.6,"s":"l"},
{"t":-15,"v":1.5,"s":"b"},{"t":0,"v":1.6,"s":"b"},{"t":5,"v":1.7,"s":"b"},{"t":7,"v":2.3,"s":"b"},{"t":10,"v":2.9,"s":"b"},{"t":14,"v":3.5,"s":"b"},{"t":18,"v":3.9,"s":"b"},{"t":22,"v":4.1,"s":"b"},{"t":26,"v":4.3,"s":"b"},{"t":30,"v":4.4,"s":"b"},{"t":35,"v":4.6,"s":"b"},{"t":40,"v":4.9,"s":"b"},{"t":44,"v":5.3,"s":"b"},{"t":48,"v":5.5,"s":"b"},{"t":52,"v":5.3,"s":"b"},{"t":56,"v":5.1,"s":"b"},{"t":60,"v":5.1,"s":"b"},{"t":63,"v":5.4,"s":"b"},{"t":66,"v":6.1,"s":"b"},{"t":70,"v":6.9,"s":"b"},{"t":74,"v":7.6,"s":"b"},{"t":78,"v":8.3,"s":"b"},{"t":82,"v":8.8,"s":"b"},{"t":86,"v":9.1,"s":"b"},{"t":90,"v":9.5,"s":"b"},{"t":93,"v":10.1,"s":"b"},{"t":96,"v":11.2,"s":"b"},{"t":100,"v":12.6,"s":"b"},{"t":104,"v":13.8,"s":"b"},{"t":108,"v":14.8,"s":"b"},{"t":112,"v":15.5,"s":"b"},{"t":116,"v":15.9,"s":"b"},{"t":120,"v":16.3,"s":"b"},{"t":124,"v":16.7,"s":"b"},{"t":128,"v":17.0,"s":"b"},{"t":132,"v":17.3,"s":"b"},{"t":134,"v":17.2,"s":"b"},{"t":136,"v":16.8,"s":"b"},{"t":138,"v":16.5,"s":"b"},{"t":140,"v":16.4,"s":"b"},
{"t":-15,"v":2.2,"s":"c"},{"t":3,"v":2.1,"s":"c"},{"t":4.2,"v":1.9,"s":"c"},{"t":5.6,"v":5.75,"s":"c"},{"t":7.9,"v":9.95,"s":"c"},{"t":10.7,"v":13.7,"s":"c"},{"t":12.5,"v":15.3,"s":"c"},{"t":14.4,"v":16.5,"s":"c"},{"t":16,"v":17.3,"s":"c"},{"t":18.2,"v":17.9,"s":"c"},{"t":21,"v":19,"s":"c"},{"t":24,"v":20.3,"s":"c"},
{"t":-15,"v":1.5,"s":"m"},{"t":6.5,"v":1.6,"s":"m"},{"t":10,"v":2.8,"s":"m"},{"t":15,"v":4.4,"s":"m"},{"t":20,"v":5.6,"s":"m"},{"t":25,"v":6.6,"s":"m"},{"t":28,"v":7.8,"s":"m"},{"t":31,"v":9.6,"s":"m"},{"t":34,"v":11.8,"s":"m"},{"t":37,"v":14,"s":"m"},{"t":40,"v":16,"s":"m"},{"t":43,"v":18.2,"s":"m"},{"t":46,"v":19.4,"s":"m"},{"t":49.5,"v":20.3,"s":"m"},
{"t":-15,"v":1.8,"s":"g"},{"t":3.8,"v":1.8,"s":"g"},{"t":5,"v":4,"s":"g"},{"t":6.5,"v":8,"s":"g"},{"t":8,"v":12.5,"s":"g"},{"t":9,"v":15.5,"s":"g"},{"t":10.5,"v":20.8,"s":"g"},
{"t":-15,"v":1.9,"s":"r"},{"t":4,"v":1.8,"s":"r"},{"t":5.5,"v":3.6,"s":"r"},{"t":7,"v":6.5,"s":"r"},{"t":8.5,"v":9.5,"s":"r"},{"t":10,"v":12.8,"s":"r"},{"t":11.5,"v":16.6,"s":"r"},{"t":13,"v":20.6,"s":"r"}
],
"c": [
{"t":-15,"v":0.05,"s":"k"},{"t":0,"v":0.045,"s":"k"},{"t":20,"v":0.03,"s":"k"},{"t":60,"v":0.025,"s":"k"},{"t":100,"v":0.03,"s":"k"},{"t":140,"v":0.03,"s":"k"},
{"t":-15,"v":0.04,"s":"o"},{"t":3,"v":0.045,"s":"o"},{"t":20,"v":0.02,"s":"o"},{"t":60,"v":0.015,"s":"o"},{"t":100,"v":0.02,"s":"o"},{"t":140,"v":0.02,"s":"o"},
{"t":-15,"v":0.03,"s":"y"},{"t":10,"v":0.03,"s":"y"},{"t":50,"v":0.02,"s":"y"},{"t":100,"v":0.025,"s":"y"},{"t":140,"v":0.02,"s":"y"},
{"t":-15,"v":0.02,"s":"p"},{"t":140,"v":0.015,"s":"p"},
{"t":-15,"v":0.025,"s":"l"},{"t":60,"v":0.02,"s":"l"},{"t":140,"v":0.02,"s":"l"},
{"t":-15,"v":0.02,"s":"b"},{"t":3.7,"v":0.02,"s":"b"},{"t":4.2,"v":0.08,"s":"b"},{"t":6,"v":0.09,"s":"b"},{"t":7.9,"v":0.18,"s":"b"},{"t":9.3,"v":0.17,"s":"b"},{"t":10.7,"v":0.1,"s":"b"},{"t":14.4,"v":0.09,"s":"b"},{"t":17.3,"v":0.08,"s":"b"},{"t":20,"v":0.04,"s":"b"},{"t":26,"v":0.035,"s":"b"},{"t":31,"v":0.025,"s":"b"},{"t":36,"v":0.025,"s":"b"},{"t":39.5,"v":0.05,"s":"b"},{"t":42.3,"v":0.065,"s":"b"},{"t":45.1,"v":0.09,"s":"b"},{"t":48.8,"v":0.1,"s":"b"},{"t":52.6,"v":0.13,"s":"b"},{"t":56.3,"v":0.1,"s":"b"},{"t":60,"v":0.13,"s":"b"},{"t":63.7,"v":0.12,"s":"b"},{"t":67.4,"v":0.13,"s":"b"},{"t":69.3,"v":0.1,"s":"b"},{"t":72.1,"v":0.13,"s":"b"},{"t":75.8,"v":0.11,"s":"b"},{"t":78.6,"v":0.13,"s":"b"},{"t":82.3,"v":0.1,"s":"b"},{"t":85,"v":0.12,"s":"b"},{"t":88.5,"v":0.18,"s":"b"},{"t":92,"v":0.2,"s":"b"},{"t":95.3,"v":0.27,"s":"b"},{"t":98.8,"v":0.25,"s":"b"},{"t":101.2,"v":0.18,"s":"b"},{"t":102.7,"v":0.25,"s":"b"},{"t":104.6,"v":0.18,"s":"b"},{"t":107,"v":0.28,"s":"b"},{"t":109.3,"v":0.3,"s":"b"},{"t":112.2,"v":0.25,"s":"b"},{"t":114.5,"v":0.18,"s":"b"},{"t":116.9,"v":0.13,"s":"b"},{"t":120.2,"v":0.2,"s":"b"},{"t":122.5,"v":0.15,"s":"b"},{"t":126.3,"v":0.13,"s":"b"},{"t":130,"v":0.18,"s":"b"},{"t":132.8,"v":0.23,"s":"b"},{"t":135.2,"v":0.08,"s":"b"},{"t":137.1,"v":0.2,"s":"b"},{"t":138.4,"v":0.19,"s":"b"},{"t":140,"v":0.14,"s":"b"},
{"t":-15,"v":0.02,"s":"c"},{"t":4,"v":0.02,"s":"c"},{"t":5,"v":0.78,"s":"c"},{"t":5.8,"v":0.76,"s":"c"},{"t":7,"v":0.53,"s":"c"},{"t":8.4,"v":0.28,"s":"c"},{"t":9.8,"v":0.23,"s":"c"},{"t":12.6,"v":0.23,"s":"c"},{"t":14.4,"v":0.43,"s":"c"},{"t":15.8,"v":0.47,"s":"c"},{"t":18.6,"v":0.47,"s":"c"},{"t":20,"v":0.3,"s":"c"},{"t":21.9,"v":0.23,"s":"c"},{"t":23.7,"v":0.2,"s":"c"},{"t":25.1,"v":0.25,"s":"c"},{"t":26,"v":0.38,"s":"c"},{"t":27.4,"v":0.51,"s":"c"},{"t":29.3,"v":0.46,"s":"c"},{"t":30.7,"v":0.41,"s":"c"},{"t":32.6,"v":0.33,"s":"c"},{"t":33.5,"v":0.46,"s":"c"},{"t":34.9,"v":0.33,"s":"c"},{"t":38.6,"v":0.33,"s":"c"},{"t":42.3,"v":0.3,"s":"c"},{"t":44.2,"v":0.27,"s":"c"},{"t":47.9,"v":0.3,"s":"c"},{"t":51.6,"v":0.33,"s":"c"},{"t":54.4,"v":0.35,"s":"c"},{"t":58.1,"v":0.38,"s":"c"},{"t":63.7,"v":0.38,"s":"c"},{"t":65.6,"v":0.36,"s":"c"},{"t":69.3,"v":0.41,"s":"c"},{"t":72.1,"v":0.35,"s":"c"},{"t":74.9,"v":0.38,"s":"c"},{"t":77.2,"v":0.25,"s":"c"},{"t":79.5,"v":0.24,"s":"c"},{"t":82.3,"v":0.27,"s":"c"},{"t":86,"v":0.33,"s":"c"},{"t":90,"v":0.34,"s":"c"},{"t":95,"v":0.35,"s":"c"},{"t":97.5,"v":0.45,"s":"c"},{"t":98.8,"v":0.53,"s":"c"},{"t":102.7,"v":0.55,"s":"c"},{"t":104.7,"v":0.46,"s":"c"},{"t":109.9,"v":0.38,"s":"c"},{"t":114,"v":0.35,"s":"c"},{"t":119.3,"v":0.3,"s":"c"},{"t":122.5,"v":0.34,"s":"c"},{"t":125.9,"v":0.38,"s":"c"},{"t":130,"v":0.37,"s":"c"},{"t":133.4,"v":0.35,"s":"c"},{"t":136.5,"v":0.37,"s":"c"},{"t":140,"v":0.34,"s":"c"},
{"t":-15,"v":0.02,"s":"m"},{"t":4.2,"v":0.02,"s":"m"},{"t":6,"v":0.13,"s":"m"},{"t":7.9,"v":0.28,"s":"m"},{"t":9.3,"v":0.35,"s":"m"},{"t":10.7,"v":0.25,"s":"m"},{"t":13.5,"v":0.15,"s":"m"},{"t":16.3,"v":0.2,"s":"m"},{"t":19,"v":0.2,"s":"m"},{"t":21.9,"v":0.23,"s":"m"},{"t":23.7,"v":0.18,"s":"m"},{"t":26.5,"v":0.2,"s":"m"},{"t":29.3,"v":0.35,"s":"m"},{"t":30.7,"v":0.46,"s":"m"},{"t":32.1,"v":0.33,"s":"m"},{"t":33.5,"v":0.43,"s":"m"},{"t":35.3,"v":0.46,"s":"m"},{"t":37.2,"v":0.58,"s":"m"},{"t":38.1,"v":0.48,"s":"m"},{"t":39.5,"v":0.63,"s":"m"},{"t":41.4,"v":0.68,"s":"m"},{"t":43.7,"v":1.04,"s":"m"},{"t":45.1,"v":0.73,"s":"m"},{"t":46,"v":0.53,"s":"m"},{"t":47.9,"v":0.51,"s":"m"},{"t":49.8,"v":0.68,"s":"m"},{"t":51.6,"v":0.86,"s":"m"},{"t":53,"v":0.73,"s":"m"},{"t":54.4,"v":0.61,"s":"m"},{"t":55.8,"v":0.86,"s":"m"},{"t":59.1,"v":0.89,"s":"m"},{"t":60.9,"v":1.09,"s":"m"},{"t":62.3,"v":1.14,"s":"m"},{"t":63.3,"v":0.91,"s":"m"},{"t":64.2,"v":1.09,"s":"m"},{"t":65.6,"v":1.04,"s":"m"},{"t":67,"v":1.34,"s":"m"},{"t":68.2,"v":1.29,"s":"m"},{"t":69.3,"v":1.37,"s":"m"},{"t":70.4,"v":1.29,"s":"m"},{"t":71.6,"v":1.42,"s":"m"},{"t":73,"v":1.3,"s":"m"},{"t":74.4,"v":1.39,"s":"m"},{"t":75.3,"v":1.24,"s":"m"},{"t":77.2,"v":1.32,"s":"m"},{"t":79.5,"v":1.29,"s":"m"},{"t":80.9,"v":1.24,"s":"m"},{"t":82.3,"v":1.22,"s":"m"},{"t":84.5,"v":1.2,"s":"m"},{"t":87,"v":0.89,"s":"m"},{"t":88.2,"v":0.51,"s":"m"},{"t":89.4,"v":0.63,"s":"m"},{"t":91.2,"v":0.89,"s":"m"},{"t":93,"v":0.86,"s":"m"},{"t":95.3,"v":1.04,"s":"m"},{"t":98.8,"v":1.09,"s":"m"},{"t":101,"v":1.2,"s":"m"},{"t":102.7,"v":1.39,"s":"m"},{"t":105.5,"v":1.49,"s":"m"},{"t":108.3,"v":1.41,"s":"m"},{"t":111.1,"v":1.31,"s":"m"},{"t":114.5,"v":1.01,"s":"m"},{"t":116.9,"v":1.14,"s":"m"},{"t":119.5,"v":1.21,"s":"m"},{"t":122.3,"v":1.34,"s":"m"},{"t":125.1,"v":1.59,"s":"m"},{"t":127,"v":1.51,"s":"m"},{"t":128.9,"v":1.36,"s":"m"},{"t":130.8,"v":1.41,"s":"m"},{"t":132.7,"v":1.46,"s":"m"},{"t":134.2,"v":1.34,"s":"m"},{"t":135.6,"v":1.16,"s":"m"},{"t":137,"v":1.09,"s":"m"},{"t":137.9,"v":1.01,"s":"m"},{"t":138.9,"v":1.09,"s":"m"},{"t":140,"v":1.1,"s":"m"},
{"t":-15,"v":0.03,"s":"g"},{"t":3.6,"v":0.03,"s":"g"},{"t":4.2,"v":0.93,"s":"g"},{"t":5.1,"v":2.05,"s":"g"},{"t":6.2,"v":2.1,"s":"g"},{"t":7.4,"v":2.14,"s":"g"},{"t":8.4,"v":2.14,"s":"g"},{"t":9.2,"v":2.0,"s":"g"},{"t":9.8,"v":1.8,"s":"g"},{"t":11,"v":1.85,"s":"g"},{"t":12.1,"v":1.87,"s":"g"},{"t":13.2,"v":1.8,"s":"g"},{"t":14.4,"v":1.75,"s":"g"},{"t":15.5,"v":1.85,"s":"g"},{"t":16.7,"v":2.04,"s":"g"},{"t":17.7,"v":2.0,"s":"g"},{"t":18.6,"v":1.95,"s":"g"},{"t":19.8,"v":1.6,"s":"g"},{"t":20.9,"v":1.24,"s":"g"},{"t":21.6,"v":1.0,"s":"g"},{"t":22.3,"v":0.78,"s":"g"},{"t":23.3,"v":0.72,"s":"g"},{"t":24.2,"v":0.71,"s":"g"},{"t":25.3,"v":1.2,"s":"g"},{"t":26.5,"v":1.75,"s":"g"},{"t":27.8,"v":1.85,"s":"g"},{"t":29.3,"v":1.92,"s":"g"},{"t":30.7,"v":1.85,"s":"g"},{"t":31.6,"v":1.65,"s":"g"},{"t":32.5,"v":1.72,"s":"g"},{"t":33.5,"v":1.77,"s":"g"},{"t":34.9,"v":1.75,"s":"g"},{"t":35.6,"v":1.55,"s":"g"},{"t":36.3,"v":1.37,"s":"g"},{"t":37.7,"v":1.44,"s":"g"},{"t":38.6,"v":1.38,"s":"g"},{"t":39.5,"v":1.39,"s":"g"},{"t":41.4,"v":1.25,"s":"g"},{"t":43.3,"v":1.19,"s":"g"},{"t":44.5,"v":1.3,"s":"g"},{"t":45.6,"v":1.44,"s":"g"},{"t":47,"v":1.38,"s":"g"},{"t":48.8,"v":1.39,"s":"g"},{"t":50.2,"v":1.42,"s":"g"},{"t":51.6,"v":1.44,"s":"g"},{"t":53.5,"v":1.42,"s":"g"},{"t":54.9,"v":1.19,"s":"g"},{"t":56.5,"v":1.22,"s":"g"},{"t":59.1,"v":1.29,"s":"g"},{"t":61.5,"v":1.2,"s":"g"},{"t":63.7,"v":1.11,"s":"g"},{"t":65.5,"v":1.2,"s":"g"},{"t":67.4,"v":1.27,"s":"g"},{"t":69.5,"v":1.25,"s":"g"},{"t":71.2,"v":1.29,"s":"g"},{"t":72.5,"v":1.35,"s":"g"},{"t":74,"v":1.44,"s":"g"},{"t":75.5,"v":1.47,"s":"g"},{"t":76.7,"v":1.49,"s":"g"},{"t":78.5,"v":1.55,"s":"g"},{"t":80.5,"v":1.59,"s":"g"},{"t":82.3,"v":1.54,"s":"g"},{"t":84,"v":1.55,"s":"g"},{"t":86,"v":1.5,"s":"g"},{"t":87.8,"v":1.3,"s":"g"},{"t":88.8,"v":1.04,"s":"g"},{"t":89.5,"v":1.1,"s":"g"},{"t":90.6,"v":1.19,"s":"g"},{"t":93,"v":1.32,"s":"g"},{"t":95.3,"v":1.44,"s":"g"},{"t":97.6,"v":1.65,"s":"g"},{"t":100,"v":1.8,"s":"g"},{"t":101.5,"v":1.78,"s":"g"},{"t":103,"v":1.82,"s":"g"},{"t":104.7,"v":1.67,"s":"g"},{"t":106.8,"v":1.6,"s":"g"},{"t":108.8,"v":1.54,"s":"g"},{"t":110.3,"v":1.45,"s":"g"},{"t":111.8,"v":1.34,"s":"g"},{"t":113.5,"v":1.19,"s":"g"},{"t":114.4,"v":1.4,"s":"g"},{"t":115.3,"v":1.65,"s":"g"},{"t":117,"v":1.54,"s":"g"},{"t":118.8,"v":1.7,"s":"g"},{"t":120.2,"v":1.82,"s":"g"},{"t":121.9,"v":1.92,"s":"g"},{"t":123.3,"v":1.85,"s":"g"},{"t":125.1,"v":1.69,"s":"g"},{"t":127,"v":1.49,"s":"g"},{"t":128.4,"v":1.06,"s":"g"},{"t":129.4,"v":1.62,"s":"g"},{"t":129.8,"v":1.34,"s":"g"},{"t":130.8,"v":1.26,"s":"g"},{"t":131.8,"v":1.49,"s":"g"},{"t":132.7,"v":1.5,"s":"g"},{"t":134.6,"v":1.64,"s":"g"},{"t":136.5,"v":1.77,"s":"g"},{"t":137.9,"v":1.67,"s":"g"},{"t":140,"v":1.69,"s":"g"},
{"t":-15,"v":0.03,"s":"r"},{"t":3.6,"v":0.03,"s":"r"},{"t":4.4,"v":0.94,"s":"r"},{"t":5.6,"v":0.96,"s":"r"},{"t":6.5,"v":1.5,"s":"r"},{"t":7.4,"v":1.8,"s":"r"},{"t":8.4,"v":1.75,"s":"r"},{"t":9.8,"v":1.8,"s":"r"},{"t":10.7,"v":1.72,"s":"r"},{"t":12.6,"v":1.75,"s":"r"},{"t":14,"v":1.67,"s":"r"},{"t":15.3,"v":1.72,"s":"r"},{"t":16.7,"v":1.49,"s":"r"},{"t":18.6,"v":1.52,"s":"r"},{"t":19.5,"v":1.49,"s":"r"},{"t":20.5,"v":1.65,"s":"r"},{"t":21.4,"v":1.63,"s":"r"},{"t":22.3,"v":1.2,"s":"r"},{"t":23,"v":0.89,"s":"r"},{"t":23.7,"v":1.24,"s":"r"},{"t":24.5,"v":1.65,"s":"r"},{"t":26.5,"v":1.75,"s":"r"},{"t":28.4,"v":1.59,"s":"r"},{"t":30.2,"v":1.47,"s":"r"},{"t":31.2,"v":1.59,"s":"r"},{"t":33,"v":1.54,"s":"r"},{"t":34,"v":1.56,"s":"r"},{"t":35.3,"v":1.7,"s":"r"},{"t":36.3,"v":1.82,"s":"r"},{"t":38.6,"v":1.85,"s":"r"},{"t":39.5,"v":1.87,"s":"r"},{"t":41.4,"v":1.8,"s":"r"},{"t":43.3,"v":1.7,"s":"r"},{"t":44.7,"v":1.59,"s":"r"},{"t":46,"v":1.27,"s":"r"},{"t":47,"v":1.39,"s":"r"},{"t":48.4,"v":1.44,"s":"r"},{"t":48.8,"v":1.49,"s":"r"},{"t":49.8,"v":1.19,"s":"r"},{"t":50.7,"v":1.39,"s":"r"},{"t":53,"v":1.47,"s":"r"},{"t":54,"v":1.49,"s":"r"},{"t":54.4,"v":1.37,"s":"r"},{"t":55.5,"v":0.63,"s":"r"},{"t":58.1,"v":0.58,"s":"r"},{"t":60,"v":0.54,"s":"r"},{"t":62.8,"v":0.56,"s":"r"},{"t":63.7,"v":0.53,"s":"r"},{"t":66.5,"v":0.58,"s":"r"},{"t":67.9,"v":0.61,"s":"r"},{"t":68.8,"v":0.89,"s":"r"},{"t":70.2,"v":1.04,"s":"r"},{"t":71.2,"v":0.91,"s":"r"},{"t":72.6,"v":1.19,"s":"r"},{"t":74,"v":0.96,"s":"r"},{"t":75.3,"v":1.29,"s":"r"},{"t":77.7,"v":1.32,"s":"r"},{"t":80.5,"v":1.24,"s":"r"},{"t":82,"v":1.19,"s":"r"},{"t":83.5,"v":1.29,"s":"r"},{"t":85.3,"v":1.2,"s":"r"},{"t":86.5,"v":0.76,"s":"r"},{"t":87.6,"v":0.89,"s":"r"},{"t":88.8,"v":0.99,"s":"r"},{"t":90.6,"v":0.86,"s":"r"},{"t":93.5,"v":0.86,"s":"r"},{"t":95.3,"v":0.73,"s":"r"},{"t":96.5,"v":0.8,"s":"r"},{"t":97.4,"v":1.65,"s":"r"},{"t":98.8,"v":1.75,"s":"r"},{"t":101,"v":1.7,"s":"r"},{"t":102.6,"v":1.75,"s":"r"},{"t":104.7,"v":1.67,"s":"r"},{"t":106.4,"v":1.59,"s":"r"},{"t":109.2,"v":1.49,"s":"r"},{"t":112,"v":1.31,"s":"r"},{"t":113.9,"v":1.16,"s":"r"},{"t":116.7,"v":1.19,"s":"r"},{"t":119.5,"v":1.39,"s":"r"},{"t":121.4,"v":1.59,"s":"r"},{"t":122.8,"v":1.72,"s":"r"},{"t":125.1,"v":1.69,"s":"r"},{"t":127,"v":1.59,"s":"r"},{"t":129.8,"v":1.57,"s":"r"},{"t":131.7,"v":1.46,"s":"r"},{"t":133.5,"v":1.36,"s":"r"},{"t":135.4,"v":1.23,"s":"r"},{"t":136.8,"v":1.16,"s":"r"},{"t":138.2,"v":1.11,"s":"r"},{"t":140,"v":1.11,"s":"r"}
],
"d": [
{"t":-15,"v":1.35,"s":"k"},{"t":0,"v":1.3,"s":"k"},{"t":10,"v":1.25,"s":"k"},{"t":25,"v":1.3,"s":"k"},{"t":40,"v":1.45,"s":"k"},{"t":60,"v":1.45,"s":"k"},{"t":80,"v":1.45,"s":"k"},{"t":90,"v":1.38,"s":"k"},{"t":100,"v":1.45,"s":"k"},{"t":120,"v":1.5,"s":"k"},{"t":140,"v":1.48,"s":"k"},
{"t":-15,"v":1.45,"s":"o"},{"t":5,"v":1.55,"s":"o"},{"t":15,"v":1.6,"s":"o"},{"t":25,"v":1.5,"s":"o"},{"t":40,"v":1.3,"s":"o"},{"t":60,"v":1.1,"s":"o"},{"t":80,"v":0.95,"s":"o"},{"t":90,"v":0.85,"s":"o"},{"t":100,"v":0.9,"s":"o"},{"t":110,"v":1.0,"s":"o"},{"t":125,"v":1.15,"s":"o"},{"t":140,"v":1.2,"s":"o"},
{"t":-15,"v":1.1,"s":"y"},{"t":0,"v":1.2,"s":"y"},{"t":15,"v":1.15,"s":"y"},{"t":30,"v":1.05,"s":"y"},{"t":50,"v":0.95,"s":"y"},{"t":70,"v":0.9,"s":"y"},{"t":90,"v":0.8,"s":"y"},{"t":110,"v":0.9,"s":"y"},{"t":140,"v":1.0,"s":"y"},
{"t":-15,"v":0.7,"s":"p"},{"t":10,"v":0.6,"s":"p"},{"t":30,"v":0.5,"s":"p"},{"t":50,"v":0.58,"s":"p"},{"t":70,"v":0.65,"s":"p"},{"t":100,"v":0.68,"s":"p"},{"t":140,"v":0.7,"s":"p"},
{"t":-15,"v":0.6,"s":"l"},{"t":20,"v":0.65,"s":"l"},{"t":50,"v":0.72,"s":"l"},{"t":90,"v":0.75,"s":"l"},{"t":140,"v":0.8,"s":"l"},
{"t":-15,"v":0.65,"s":"b"},{"t":7,"v":0.7,"s":"b"},{"t":9.5,"v":1.4,"s":"b"},{"t":11.9,"v":1.9,"s":"b"},{"t":14.5,"v":2.15,"s":"b"},{"t":17.1,"v":2.35,"s":"b"},{"t":20.5,"v":2.55,"s":"b"},{"t":24.2,"v":2.7,"s":"b"},{"t":29,"v":2.75,"s":"b"},{"t":33.7,"v":2.8,"s":"b"},{"t":37.5,"v":2.95,"s":"b"},{"t":40.8,"v":3.2,"s":"b"},{"t":43.7,"v":3.3,"s":"b"},{"t":47.9,"v":3.2,"s":"b"},{"t":52.6,"v":3.06,"s":"b"},{"t":59.7,"v":3.06,"s":"b"},{"t":65.6,"v":3.5,"s":"b"},{"t":71.5,"v":4.0,"s":"b"},{"t":76.2,"v":4.35,"s":"b"},{"t":82.1,"v":4.47,"s":"b"},{"t":88,"v":4.6,"s":"b"},{"t":92.7,"v":4.7,"s":"b"},{"t":96.3,"v":5.4,"s":"b"},{"t":99.8,"v":6.0,"s":"b"},{"t":104.6,"v":6.6,"s":"b"},{"t":106.9,"v":7.06,"s":"b"},{"t":111.6,"v":7.76,"s":"b"},{"t":115.2,"v":8.0,"s":"b"},{"t":119.9,"v":8.35,"s":"b"},{"t":125.8,"v":8.6,"s":"b"},{"t":131.7,"v":8.82,"s":"b"},{"t":133.5,"v":8.85,"s":"b"},{"t":135.3,"v":8.47,"s":"b"},{"t":140,"v":8.4,"s":"b"},
{"t":-15,"v":1.05,"s":"c"},{"t":3,"v":1.05,"s":"c"},{"t":4.2,"v":0.8,"s":"c"},{"t":4.7,"v":1.6,"s":"c"},{"t":6.3,"v":3.3,"s":"c"},{"t":8.2,"v":4.15,"s":"c"},{"t":11.5,"v":5.0,"s":"c"},{"t":15.6,"v":6.2,"s":"c"},{"t":17.5,"v":7.2,"s":"c"},{"t":18.9,"v":8.06,"s":"c"},{"t":22.2,"v":8.8,"s":"c"},{"t":24.9,"v":9.6,"s":"c"},{"t":26.5,"v":10.3,"s":"c"},
{"t":-15,"v":0.7,"s":"m"},{"t":7.3,"v":0.7,"s":"m"},{"t":10.5,"v":2.0,"s":"m"},{"t":14,"v":2.9,"s":"m"},{"t":18.4,"v":3.9,"s":"m"},{"t":23,"v":4.7,"s":"m"},{"t":27,"v":5.3,"s":"m"},{"t":30,"v":6.1,"s":"m"},{"t":33,"v":7.0,"s":"m"},{"t":36,"v":8.0,"s":"m"},{"t":38,"v":9.0,"s":"m"},{"t":40.2,"v":10.3,"s":"m"},
{"t":-15,"v":0.75,"s":"g"},{"t":4,"v":0.75,"s":"g"},{"t":5,"v":2.5,"s":"g"},{"t":6,"v":4.4,"s":"g"},{"t":7,"v":6.5,"s":"g"},{"t":8,"v":8.6,"s":"g"},{"t":8.9,"v":10.4,"s":"g"},
{"t":-15,"v":0.7,"s":"r"},{"t":3.8,"v":0.7,"s":"r"},{"t":5.5,"v":2.8,"s":"r"},{"t":7,"v":5,"s":"r"},{"t":8.5,"v":7.3,"s":"r"},{"t":10.3,"v":10.3,"s":"r"}
]
},
"vconcat": [
{"concat": [
{"width": 552, "height": 143, "title": {"text": "Power ΔACF (with Averaging)"},
 "resolve": {"axis": {"x": "independent", "y": "independent"}},
 "layer": [
  {"data": {"name": "a"}, "mark": {"type": "circle", "size": 26, "opacity": 1},
   "encoding": {
    "x": {"field": "t", "type": "quantitative", "scale": {"domain": [-15, 140], "nice": false, "zero": false},
      "axis": {"title": "Time (s)", "orient": "bottom", "values": [0,20,40,60,80,100,120,140], "labelExpr": "'' + datum.value / 1000", "gridColor": "#d9d9d9"}},
    "y": {"field": "v", "type": "quantitative", "scale": {"domain": [0, 7.75], "nice": false},
      "axis": {"title": "Power (A²)", "orient": "left", "values": [0,2,4,6], "gridColor": "#d9d9d9"}},
    "fill": {"field": "s", "type": "nominal", "scale": {"domain": ["r","g","c","k","p","b","m","y","o","l"], "range": ["#ee2a2a","#2ad82a","#35eeee","#2f7fc0","#7e2f8e","#2a2ae6","#f03cf0","#edb120","#d95319","#77ac30"]}, "legend": null}
   }},
  {"data": {"name": "a"}, "mark": {"type": "point", "opacity": 0},
   "encoding": {
    "x": {"field": "t", "type": "quantitative", "axis": {"orient": "top", "title": null, "labels": false, "ticks": false, "domain": false, "grid": true, "gridDash": [1, 4], "gridColor": "#a8a8a8", "values": [-12,-8,-4,4,8,12,16,24,28,32,36,44,48,52,56,64,68,72,76,84,88,92,96,104,108,112,116,124,128,132,136]}},
    "y": {"field": "v", "type": "quantitative", "axis": {"orient": "right", "title": null, "labels": false, "ticks": false, "domain": false, "grid": true, "gridDash": [1, 4], "gridColor": "#a8a8a8", "values": [0.4,0.8,1.2,1.6,2.4,2.8,3.2,3.6,4.4,4.8,5.2,5.6,6.4,6.8,7.2,7.6]}}
   }},
  {"data": {"values": [{}]}, "mark": {"type": "text", "font": "Liberation Serif", "fontSize": 20, "color": "#000"},
   "encoding": {"x": {"datum": -32, "axis": null}, "y": {"datum": 4, "axis": null}, "text": {"value": "(a)"}}}
 ]},
{"width": 551, "height": 141, "title": {"text": "STD of Power Across Lags of ΔACF"},
 "resolve": {"axis": {"x": "independent", "y": "independent"}},
 "layer": [
  {"data": {"name": "c"}, "mark": {"type": "line", "strokeWidth": 2, "clip": true},
   "encoding": {
    "x": {"field": "t", "type": "quantitative", "scale": {"domain": [-14.5, 140], "nice": false, "zero": false},
      "axis": {"title": "Time (s)", "orient": "bottom", "values": [0,20,40,60,80,100,120,140], "labelExpr": "'' + datum.value / 1000", "gridColor": "#d9d9d9"}},
    "y": {"field": "v", "type": "quantitative", "scale": {"domain": [0, 2.16], "nice": false},
      "axis": {"title": "Power (A²)", "orient": "left", "values": [0,1,2], "gridColor": "#d9d9d9"}},
    "color": {"field": "s", "type": "nominal", "scale": {"domain": ["r","g","c","k","p","b","m","y","o","l"], "range": ["#ee2a2a","#2ad82a","#35eeee","#2f7fc0","#7e2f8e","#2a2ae6","#f03cf0","#edb120","#d95319","#77ac30"]}, "legend": null}
   }},
  {"data": {"name": "c"}, "mark": {"type": "point", "opacity": 0},
   "encoding": {
    "x": {"field": "t", "type": "quantitative", "axis": {"orient": "top", "title": null, "labels": false, "ticks": false, "domain": false, "grid": true, "gridDash": [1, 4], "gridColor": "#a8a8a8", "values": [-12,-8,-4,4,8,12,16,24,28,32,36,44,48,52,56,64,68,72,76,84,88,92,96,104,108,112,116,124,128,132,136]}},
    "y": {"field": "v", "type": "quantitative", "axis": {"orient": "right", "title": null, "labels": false, "ticks": false, "domain": false, "grid": true, "gridDash": [1, 4], "gridColor": "#a8a8a8", "values": [0.2,0.4,0.6,0.8,1.2,1.4,1.6,1.8]}}
   }},
  {"data": {"values": [{}]}, "mark": {"type": "text", "font": "Liberation Serif", "fontSize": 20, "color": "#000"},
   "encoding": {"x": {"datum": -29.5, "axis": null}, "y": {"datum": 0.95, "axis": null}, "text": {"value": "(c)"}}}
 ]},
{"width": 552, "height": 143, "title": {"text": "Energy of ΔACF"},
 "resolve": {"axis": {"x": "independent", "y": "independent"}},
 "layer": [
  {"data": {"name": "b"}, "mark": {"type": "line", "strokeWidth": 2, "clip": true},
   "encoding": {
    "x": {"field": "t", "type": "quantitative", "scale": {"domain": [-15, 140], "nice": false, "zero": false},
      "axis": {"title": "Time (s)", "orient": "bottom", "values": [0,20,40,60,80,100,120,140], "labelExpr": "'' + datum.value / 1000", "gridColor": "#d9d9d9"}},
    "y": {"field": "v", "type": "quantitative", "scale": {"domain": [0, 20], "nice": false},
      "axis": {"title": "Energy (ΣA²)", "orient": "left", "values": [0,10,20], "gridColor": "#d9d9d9"}},
    "color": {"field": "s", "type": "nominal", "scale": {"domain": ["r","g","c","k","p","b","m","y","o","l"], "range": ["#ee2a2a","#2ad82a","#35eeee","#2f7fc0","#7e2f8e","#2a2ae6","#f03cf0","#edb120","#d95319","#77ac30"]}, "legend": null}
   }},
  {"data": {"name": "b"}, "mark": {"type": "point", "opacity": 0},
   "encoding": {
    "x": {"field": "t", "type": "quantitative", "axis": {"orient": "top", "title": null, "labels": false, "ticks": false, "domain": false, "grid": true, "gridDash": [1, 4], "gridColor": "#a8a8a8", "values": [-12,-8,-4,4,8,12,16,24,28,32,36,44,48,52,56,64,68,72,76,84,88,92,96,104,108,112,116,124,128,132,136]}},
    "y": {"field": "v", "type": "quantitative", "axis": {"orient": "right", "title": null, "labels": false, "ticks": false, "domain": false, "grid": true, "gridDash": [1, 4], "gridColor": "#a8a8a8", "values": [2,4,6,8,12,14,16,18]}}
   }},
  {"data": {"values": [{}]}, "mark": {"type": "rule", "color": "#f04848", "strokeWidth": 2, "strokeDash": [9, 5]},
   "encoding": {"y": {"datum": 16, "axis": null}}},
  {"data": {"values": [{}]}, "mark": {"type": "text", "font": "Lato", "fontSize": 15, "align": "right", "color": "#111"},
   "encoding": {"x": {"datum": 139, "axis": null}, "y": {"datum": 6.2, "axis": null}, "text": {"value": "Unwanted Tripping Tests"}}},
  {"data": {"values": [{}]}, "mark": {"type": "text", "font": "Liberation Serif", "fontSize": 20, "color": "#000"},
   "encoding": {"x": {"datum": -32, "axis": null}, "y": {"datum": 10, "axis": null}, "text": {"value": "(b)"}}}
 ]},
{"width": 551, "height": 140, "title": {"text": "Energy of STD of Power Across Lags of ΔACF"},
 "resolve": {"axis": {"x": "independent", "y": "independent"}},
 "layer": [
  {"data": {"name": "d"}, "mark": {"type": "line", "strokeWidth": 2, "clip": true},
   "encoding": {
    "x": {"field": "t", "type": "quantitative", "scale": {"domain": [-14.5, 140], "nice": false, "zero": false},
      "axis": {"title": "Time (s)", "orient": "bottom", "values": [0,20,40,60,80,100,120,140], "labelExpr": "'' + datum.value / 1000", "gridColor": "#d9d9d9"}},
    "y": {"field": "v", "type": "quantitative", "scale": {"domain": [0, 10], "nice": false},
      "axis": {"title": "Energy (ΣA²)", "orient": "left", "values": [0,5,10], "gridColor": "#d9d9d9"}},
    "color": {"field": "s", "type": "nominal", "scale": {"domain": ["r","g","c","k","p","b","m","y","o","l"], "range": ["#ee2a2a","#2ad82a","#35eeee","#2f7fc0","#7e2f8e","#2a2ae6","#f03cf0","#edb120","#d95319","#77ac30"]}, "legend": null}
   }},
  {"data": {"name": "d"}, "mark": {"type": "point", "opacity": 0},
   "encoding": {
    "x": {"field": "t", "type": "quantitative", "axis": {"orient": "top", "title": null, "labels": false, "ticks": false, "domain": false, "grid": true, "gridDash": [1, 4], "gridColor": "#a8a8a8", "values": [-12,-8,-4,4,8,12,16,24,28,32,36,44,48,52,56,64,68,72,76,84,88,92,96,104,108,112,116,124,128,132,136]}},
    "y": {"field": "v", "type": "quantitative", "axis": {"orient": "right", "title": null, "labels": false, "ticks": false, "domain": false, "grid": true, "gridDash": [1, 4], "gridColor": "#a8a8a8", "values": [1,2,3,4,6,7,8,9]}}
   }},
  {"data": {"values": [{}]}, "mark": {"type": "rule", "color": "#f04848", "strokeWidth": 2, "strokeDash": [9, 5]},
   "encoding": {"y": {"datum": 8, "axis": null}}},
  {"data": {"values": [{}]}, "mark": {"type": "text", "font": "Lato", "fontSize": 15, "align": "right", "color": "#111"},
   "encoding": {"x": {"datum": 138, "axis": null}, "y": {"datum": 2.8, "axis": null}, "text": {"value": "Unwanted Tripping Tests"}}},
  {"data": {"values": [{}]}, "mark": {"type": "text", "font": "Liberation Serif", "fontSize": 20, "color": "#000"},
   "encoding": {"x": {"datum": -30.5, "axis": null}, "y": {"datum": 4.8, "axis": null}, "text": {"value": "(d)"}}}
 ]}
],
"columns": 2,
"spacing": {"row": 84, "column": 98},
"bounds": "flush"},
{"width": 1206, "height": 44,
 "view": {"stroke": "#000000", "strokeWidth": 2},
 "data": {"name": "leg"},
 "encoding": {
   "x": {"field": "col", "type": "quantitative", "scale": {"domain": [0,1,2,3,4], "range": [15,231,450,727,973]}, "axis": null},
   "y": {"field": "row", "type": "quantitative", "scale": {"domain": [0,1], "range": [11,33]}, "axis": null}
 },
 "layer": [
   {"mark": {"type": "point", "shape": "M0,0H2", "size": 3025, "filled": false, "strokeWidth": 2, "opacity": 1},
    "encoding": {"color": {"field": "s", "type": "nominal", "scale": {"domain": ["r","g","c","k","p","b","m","y","o","l"], "range": ["#ee2a2a","#2ad82a","#35eeee","#2f7fc0","#7e2f8e","#2a2ae6","#f03cf0","#edb120","#d95319","#77ac30"]}, "legend": null}}},
   {"mark": {"type": "text", "align": "left", "baseline": "middle", "dx": 59, "font": "Lato", "fontSize": 16.5, "color": "#000"},
    "encoding": {"text": {"field": "name"}}}
 ]}
],
"spacing": 5,
"bounds": "full",
"config": {
 "font": "Lato",
 "view": {"stroke": "#cccccc"},
 "axis": {"labelFont": "Lato", "labelFontSize": 15, "labelColor": "#1a1a1a", "titleFont": "Lato", "titleFontSize": 18, "titleFontWeight": "normal", "titleColor": "#1a1a1a", "ticks": false, "domainColor": "#444444", "domainWidth": 1.5, "labelFlush": false, "grid": true, "gridWidth": 1},
 "axisX": {"labelPadding": 10, "titlePadding": 3},
 "axisY": {"labelPadding": 5, "titlePadding": 3},
 "title": {"font": "Lato", "fontSize": 16, "fontWeight": "bold", "frame": "group", "anchor": "middle", "offset": 5, "color": "#000"}
}
}
